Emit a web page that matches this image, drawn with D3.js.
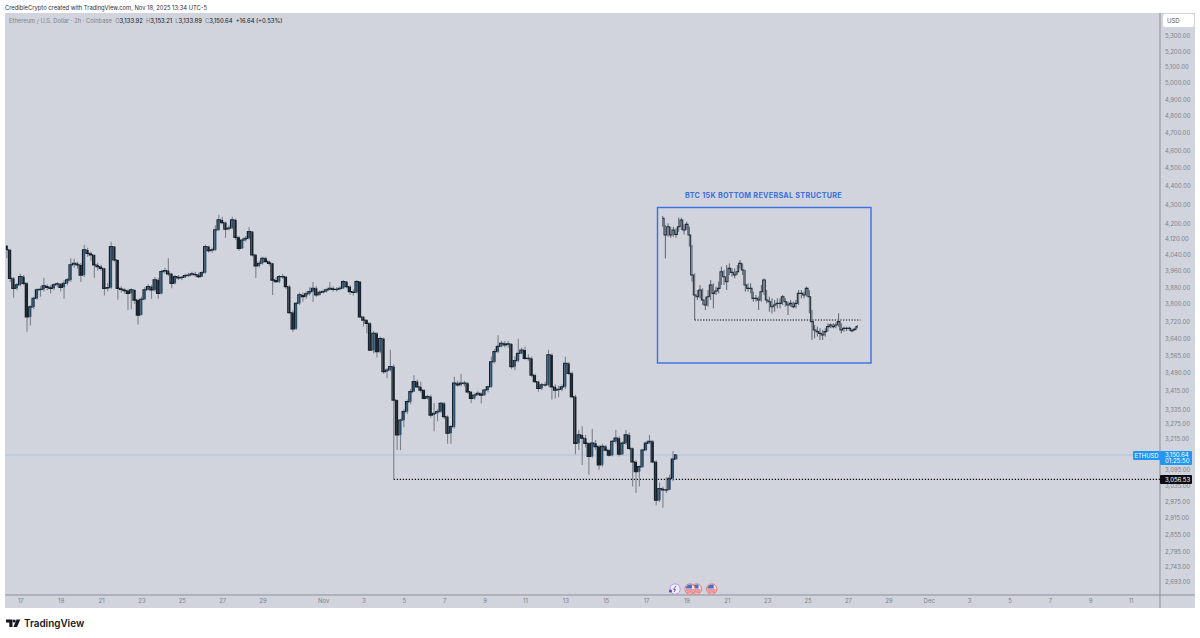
<!DOCTYPE html>
<html>
<head>
<meta charset="utf-8">
<title>ETHUSD</title>
<script src="https://cdn.jsdelivr.net/npm/d3@7"></script>
<style>
    html, body { margin: 0; padding: 0; background: #fff; }
    svg { display: block; font-family: Inter, "Noto Sans", sans-serif; }
    .axis text { fill: #7d818d; font-size: 6px; font-family: Inter, sans-serif; }
    .axis path, .axis line { display: none; }
</style>
</head>
<body>
<svg id="chart" width="1200" height="638"></svg>
<script>
    // ETH candles, one every 4h (ends at Nov 18 12:00)
    const firstOpen = 4085;
    const closes = [4064,3923,3875,3891,3931,3899,3740,3786,3827,3867,3870,3886,3880,3875,3891,3896,3880,3899,3915,3989,
        3997,3989,3939,4064,4047,4039,3989,3981,3972,3875,3878,4081,4014,3875,3870,3864,3851,3867,3819,3748,
        3822,3867,3883,3867,3915,3851,3956,3961,3945,3899,3931,3926,3928,3936,3939,3945,3941,3931,3951,4081,
        4060,4064,4166,4218,4204,4170,4175,4218,4128,4072,4114,4123,4157,4039,3984,3997,4022,4006,3997,3915,
        3907,3931,3931,3883,3760,3685,3803,3843,3835,3848,3859,3875,3843,3855,3859,3867,3875,3870,3870,3875,
        3907,3883,3859,3855,3907,3740,3725,3710,3589,3664,3582,3640,3494,3501,3516,3373,3230,3290,3325,3366,
        3408,3451,3429,3415,3380,3387,3311,3318,3325,3359,3304,3237,3263,3444,3437,3444,3444,3408,3380,3394,
        3401,3394,3415,3429,3537,3582,3605,3619,3612,3616,3516,3542,3574,3589,3552,3552,3479,3451,3422,3437,
        3437,3567,3429,3415,3418,3429,3530,3487,3387,3197,3230,3217,3197,3145,3197,3184,3112,3184,3170,3150,
        3204,3217,3154,3197,3230,3177,3124,3086,3105,3170,3197,3204,3124,2979,3022,3017,3017,3060,3134,3150.64];
    const highs = [4089,4070,3930,3900,3945,3940,3905,3795,3835,3875,3885,3925,3895,3890,3900,3905,3900,3915,3925,4022,
        4020,4005,3998,4090,4075,4055,4040,4000,3990,3975,3900,4105,4085,4015,3885,3875,3870,3875,3870,3825,
        3835,3880,3895,3890,3930,3925,3965,3975,4022,3950,3940,3940,3935,3945,3950,3955,3955,3950,3960,4090,
        4085,4075,4190,4245,4235,4210,4190,4235,4225,4135,4125,4135,4180,4160,4045,4010,4030,4030,4010,4000,
        3930,3940,3945,3935,3890,3770,3810,3855,3855,3860,3880,3905,3885,3865,3870,3875,3905,3885,3880,3885,
        3915,3910,3890,3870,3915,3910,3745,3730,3715,3675,3670,3650,3645,3510,3590,3525,3375,3295,3335,3375,
        3420,3479,3460,3450,3420,3395,3395,3360,3335,3365,3365,3310,3270,3472,3455,3484,3455,3450,3410,3400,
        3410,3405,3420,3435,3560,3595,3655,3630,3630,3630,3620,3560,3640,3600,3605,3570,3560,3485,3455,3445,
        3450,3589,3575,3440,3435,3440,3559,3535,3495,3395,3250,3265,3230,3200,3254,3210,3190,3195,3190,3175,
        3210,3250,3225,3205,3250,3240,3180,3130,3110,3175,3205,3230,3210,3130,3045,3030,3065,3075,3165,3153.21];
    const lows = [4022,3905,3830,3865,3885,3890,3672,3700,3775,3820,3835,3860,3865,3850,3865,3880,3860,3825,3890,3905,
        3975,3970,3905,3930,4030,4010,3925,3960,3960,3840,3860,3870,4005,3820,3855,3850,3772,3775,3800,3705,
        3815,3820,3865,3825,3860,3825,3845,3945,3935,3875,3895,3915,3915,3925,3930,3935,3930,3925,3930,3945,
        4050,4050,4060,4160,4195,4125,4165,4170,4115,4060,4070,4105,4115,4030,3925,3975,3990,4000,3985,3843,
        3900,3900,3920,3870,3755,3672,3680,3795,3811,3825,3840,3810,3835,3840,3850,3855,3865,3860,3860,3865,
        3870,3875,3845,3840,3850,3735,3695,3664,3585,3575,3556,3575,3485,3466,3495,3056.53,3170,3170,3260,3315,
        3355,3440,3425,3405,3375,3375,3300,3245,3285,3320,3295,3195,3195,3255,3430,3430,3430,3400,3360,3375,
        3390,3360,3390,3405,3425,3530,3575,3600,3600,3600,3505,3500,3535,3570,3545,3540,3470,3445,3408,3415,
        3430,3430,3375,3380,3385,3410,3420,3480,3380,3154,3170,3112,3180,3074,3140,3170,3093,3105,3165,3145,
        3145,3195,3145,3150,3190,3170,3030,3005,3030,3100,3165,3195,3120,2960,2972,2951,3005,3022,3050,3133.89];

    // BTC structure pasted into the inset
    const btcCloses = [21340,20540,20940,20540,20780,20572,20940,21260,20780,21052,20540,18620,17660,17580,17900,17420,17180,17580,18140,17740,
        17852,17980,18780,18540,18300,18940,18748,18620,18780,19180,18860,18140,17980,17980,17500,17500,17420,17820,18380,17420,
        17340,17100,17180,17260,17260,17580,17340,17180,17260,17100,17260,17740,17740,17660,17980,17580,16380,15980,15900,15820,
        15740,15900,16140,16220,16140,16220,16380,15980,16060,16060,16060,15948,16012,16140];
    const btcHighs = [21450,21020,21100,20940,20940,20860,21370,21370,21050,21180,20940,20060,18700,17900,18140,17980,17580,17900,18380,18220,
        18060,18300,19020,18860,19100,19180,18940,18940,19100,19340,19180,18860,18220,18220,17820,17660,17580,18140,18460,17900,
        17580,17500,17420,17500,17500,17660,17500,17340,17420,17340,17420,17900,17900,17820,18060,17900,16940,16220,16140,16060,
        15980,16060,16300,16300,16300,16350,16780,16300,16140,16140,16140,16030,16090,16220];
    const btcLows = [20940,19420,20460,20410,20460,20410,20700,20780,20570,20780,19980,18300,16460,17420,17500,17180,16940,17100,17420,17020,
        17660,17740,18140,18140,17900,18620,18540,18460,18620,18940,18620,17820,17820,17740,17340,17340,16940,17340,17660,17260,
        16860,16780,16860,17020,17020,17180,17100,16700,17100,17020,17020,17180,17500,17500,17580,16780,15500,15580,15660,15500,
        15500,15660,15900,16060,16060,16060,16140,15820,15900,15930,15930,15870,15930,16060];

    const priceTicks = [5300,5200,5100,5000,4900,4800,4700,4600,4500,4400,4300,4200,4120,4040,3960,3880,3800,3720,3640,3565,
        3490,3415,3335,3275,3215,3095,3035,2975,2915,2855,2795,2743,2693];
    const dayTicks = ['2025-10-17','2025-10-19','2025-10-21','2025-10-23','2025-10-25','2025-10-27','2025-10-29','2025-11-01','2025-11-03','2025-11-05',
        '2025-11-07','2025-11-09','2025-11-11','2025-11-13','2025-11-15','2025-11-17','2025-11-19','2025-11-21','2025-11-23','2025-11-25',
        '2025-11-27','2025-11-29','2025-12-01','2025-12-03','2025-12-05','2025-12-07','2025-12-09','2025-12-11'];

    const lastPrice = 3150.64,
        lowLevel = 3056.53,
        lowLevelIndex = 115,
        btcLevel = 16460,
        btcLevelIndex = 12,
        lastBar = new Date(Date.UTC(2025, 10, 18, 12)),
        barMs = 4 * 3600 * 1000;

    const paneLeft = 5, paneRight = 1160, paneTop = 13, paneBottom = 595, outerRight = 1195, outerBottom = 608;
    const upColor = '#2b506e', downColor = '#18222d', wickColor = '#7c818b', blue = '#3b6fe3', tagBlue = '#2196f3';

    const svg = d3.select('#chart');

    const x = d3.scaleUtc()
        .domain([new Date(Date.UTC(2025, 9, 17)), new Date(Date.UTC(2025, 11, 11))])
        .range([20.3, 1130.6]);
    const y = d3.scaleLog()
        .domain([5300, 2693])
        .range([36, 36 + 805.6 * Math.log(5300 / 2693)]);

    const barTime = (i) => new Date(lastBar.getTime() - (closes.length - 1 - i) * barMs);
    const candles = closes.map((c, i) => ({
        i, time: barTime(i), open: i ? closes[i - 1] : firstOpen, close: c, high: highs[i], low: lows[i]
    }));

    // pane
    svg.append('rect').attr('x', paneLeft).attr('y', paneTop)
        .attr('width', outerRight - paneLeft).attr('height', outerBottom - paneTop).attr('fill', '#d1d4dc');
    svg.append('line').attr('x1', paneRight).attr('x2', paneRight).attr('y1', paneTop).attr('y2', outerBottom)
        .attr('stroke', '#8b8f9a');
    svg.append('line').attr('x1', paneLeft).attr('x2', outerRight).attr('y1', paneBottom).attr('y2', paneBottom)
        .attr('stroke', '#8b8f9a');

    svg.append('clipPath').attr('id', 'pane-clip').append('rect')
        .attr('x', paneLeft).attr('y', paneTop).attr('width', paneRight - paneLeft).attr('height', paneBottom - paneTop);
    const plot = svg.append('g').attr('clip-path', 'url(#pane-clip)');

    // axes
    svg.append('g').attr('class', 'axis').attr('transform', `translate(${paneRight},0)`)
        .call(d3.axisRight(y).tickValues(priceTicks).tickSize(0).tickPadding(5).tickFormat(d3.format(',.2f')));
    const parseDay = d3.utcParse('%Y-%m-%d');
    svg.append('g').attr('class', 'axis').attr('transform', `translate(0,${paneBottom})`)
        .call(d3.axisBottom(x).tickValues(dayTicks.map(parseDay)).tickSize(0).tickPadding(4)
            .tickFormat((d) => d.getUTCDate() === 1 ? d3.utcFormat('%b')(d) : d.getUTCDate()));

    // price lines
    plot.append('line').attr('x1', paneLeft).attr('x2', paneRight)
        .attr('y1', y(lastPrice)).attr('y2', y(lastPrice)).attr('stroke', '#a9c6e2').attr('stroke-width', 1);
    plot.append('line').attr('x1', x(candles[lowLevelIndex].time)).attr('x2', paneRight)
        .attr('y1', y(lowLevel)).attr('y2', y(lowLevel))
        .attr('stroke', '#111').attr('stroke-width', 1.2).attr('stroke-dasharray', '1.3 1.7');

    // candles, the step line keeps neighbours joined the way 2h bars look at this width
    plot.append('g').selectAll('line').data(candles).join('line')
        .attr('x1', (d) => x(d.time)).attr('x2', (d) => x(d.time))
        .attr('y1', (d) => y(d.high)).attr('y2', (d) => y(d.low))
        .attr('stroke', wickColor).attr('stroke-width', 1.1);
    plot.append('path').datum(candles)
        .attr('d', d3.line().curve(d3.curveStep).x((d) => x(d.time)).y((d) => y(d.close)))
        .attr('fill', 'none').attr('stroke', downColor).attr('stroke-width', 1.3);
    plot.append('g').selectAll('rect').data(candles).join('rect')
        .attr('x', (d) => x(d.time) - 1)
        .attr('width', 2)
        .attr('y', (d) => y(Math.max(d.open, d.close)))
        .attr('height', (d) => Math.max(1, Math.abs(y(d.open) - y(d.close))))
        .attr('fill', (d) => d.close >= d.open ? upColor : downColor);

    // inset
    svg.append('rect').attr('x', 657.5).attr('y', 207.5).attr('width', 213.5).attr('height', 155.5)
        .attr('fill', 'none').attr('stroke', blue).attr('stroke-width', 1.4);
    svg.append('text').attr('x', 763.5).attr('y', 197.5).attr('text-anchor', 'middle')
        .attr('font-size', 7.2).attr('font-weight', 700).attr('letter-spacing', 0.3).attr('fill', blue)
        .text('BTC 15K BOTTOM REVERSAL STRUCTURE');

    const btcX = d3.scaleLinear().domain([0, btcCloses.length - 1]).range([662.7, 857.3]);
    const btcY = d3.scaleLinear().domain([15500, 21420]).range([340, 216.7]);
    const inset = svg.append('g');
    inset.append('line').attr('x1', btcX(btcLevelIndex)).attr('x2', 860.5)
        .attr('y1', btcY(btcLevel)).attr('y2', btcY(btcLevel))
        .attr('stroke', '#111').attr('stroke-width', 1).attr('stroke-dasharray', '1.3 1.5');
    inset.append('g').selectAll('line').data(btcCloses).join('line')
        .attr('x1', (d, i) => btcX(i)).attr('x2', (d, i) => btcX(i))
        .attr('y1', (d, i) => btcY(btcHighs[i])).attr('y2', (d, i) => btcY(btcLows[i]))
        .attr('stroke', '#5b626e').attr('stroke-width', 1);
    inset.append('path').datum(btcCloses)
        .attr('d', d3.line().curve(d3.curveStep).x((d, i) => btcX(i)).y((d) => btcY(d)))
        .attr('fill', 'none').attr('stroke', '#1f2d3a').attr('stroke-width', 1.1);

    // price tags
    svg.append('rect').attr('x', 1133).attr('y', 451).attr('width', 27).attr('height', 9).attr('rx', 1).attr('fill', tagBlue);
    svg.append('text').attr('x', 1146.5).attr('y', 457.6).attr('text-anchor', 'middle')
        .attr('font-size', 5.8).attr('fill', '#fff').text('ETHUSD');
    svg.append('rect').attr('x', 1160).attr('y', 451).attr('width', 32).attr('height', 14).attr('rx', 1).attr('fill', tagBlue);
    svg.append('text').attr('x', 1165).attr('y', 457).attr('font-size', 6).attr('fill', '#fff').text(d3.format(',.2f')(lastPrice));
    svg.append('text').attr('x', 1165).attr('y', 463.2).attr('font-size', 6).attr('fill', '#fff').text('01:25:50');
    svg.append('rect').attr('x', 1160).attr('y', y(lowLevel) - 4.5).attr('width', 32).attr('height', 9).attr('rx', 1).attr('fill', '#0c0e14');
    svg.append('text').attr('x', 1165).attr('y', y(lowLevel) + 2.2).attr('font-size', 6).attr('fill', '#fff').text(d3.format(',.2f')(lowLevel));

    // USD button
    svg.append('rect').attr('x', 1163).attr('y', 14).attr('width', 31).attr('height', 13).attr('rx', 2).attr('fill', '#fff');
    svg.append('text').attr('x', 1167).attr('y', 23).attr('font-size', 6).attr('fill', '#50535e').text('USD');

    // header and legend
    svg.append('text').attr('x', 5).attr('y', 9.7).attr('font-size', 5.8).attr('fill', '#2a2e39')
        .text('CredibleCrypto created with TradingView.com, Nov 18, 2025 13:34 UTC-5');
    const legend = svg.append('text').attr('x', 9).attr('y', 23).attr('font-size', 5.8);
    const legendParts = [
        ['Ethereum / U.S. Dollar · 2h · Coinbase  ', '#7d818d'], ['O', '#7d818d'], ['3,133.92  ', '#2a2e39'],
        ['H', '#7d818d'], ['3,153.21  ', '#2a2e39'], ['L', '#7d818d'], ['3,133.89  ', '#2a2e39'],
        ['C', '#7d818d'], ['3,150.64  ', '#2a2e39'], ['+16.64 (+0.53%)', '#2a2e39']
    ];
    legend.attr('xml:space', 'preserve').selectAll('tspan').data(legendParts).join('tspan')
        .attr('fill', (d) => d[1]).attr('font-weight', (d) => d[1] === '#2a2e39' ? 500 : 400).text((d) => d[0]);

    // event markers on the time axis
    const marks = svg.append('g');
    const flag = (cx) => {
        const g = marks.append('g').attr('transform', `translate(${cx},589)`);
        g.append('circle').attr('r', 5.2).attr('fill', '#f7dcdc').attr('stroke', '#e57a82').attr('stroke-width', 1);
        g.append('path').attr('d', 'M-4 1H4M-3.5 3H3.5').attr('stroke', '#e0525c').attr('stroke-width', 1);
        g.append('path').attr('d', 'M-4.4 -0.5A4.6 4.6 0 0 1 2 -4.2V-0.5Z').attr('fill', '#3f73c8');
    };
    flag(696.5);
    flag(690);
    flag(711.7);
    const crypto = marks.append('g').attr('transform', 'translate(675,589)');
    crypto.append('circle').attr('r', 5.2).attr('fill', '#f3eefb').attr('stroke', '#b79be6').attr('stroke-width', 1);
    crypto.append('path').attr('d', 'M1 -3L-1.5 0.5H0.5L-1 3').attr('fill', 'none').attr('stroke', '#7e57c2').attr('stroke-width', 1);
    crypto.append('circle').attr('cx', -4.5).attr('cy', 2).attr('r', 1.5).attr('fill', '#5a3fc0');

    // logo
    const logo = svg.append('g').attr('fill', '#131722');
    logo.append('path').attr('d', 'M6 619.5H12.5V627H9.3V622.6H6Z');
    logo.append('circle').attr('cx', 14.2).attr('cy', 621).attr('r', 1.5);
    logo.append('path').attr('d', 'M16.5 619.5H20.3L17 627H13.4Z');
    logo.append('text').attr('x', 24).attr('y', 627).attr('font-size', 9.9).attr('font-weight', 600).text('TradingView');
</script>
</body>
</html>
